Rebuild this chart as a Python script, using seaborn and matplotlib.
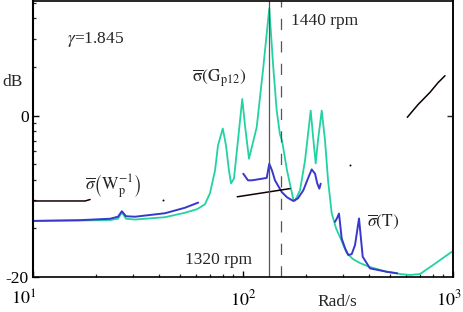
import numpy as np
import pandas as pd
import matplotlib
matplotlib.use("Agg")
import matplotlib.pyplot as plt
import matplotlib.transforms as mtransforms
from matplotlib.ticker import FixedLocator, NullLocator, LogLocator, NullFormatter
import seaborn as sns

# ---------------- data (frequency in rad/s, magnitude in dB) ----------------
gp12_freq = [10, 16.7, 23.3, 25.4, 26.5, 27.7, 30.6, 42.5, 52.9, 60.4, 65.9, 69.6, 73.6, 76.0,
             80.1, 83.0, 85.7, 87.7, 90.6, 94.6, 99.2, 102.2, 106.8, 116.2, 124.9, 133.4,
             139.4, 144.7, 150.0, 153.4, 162.0, 173.6, 176.9, 186.8, 197.4, 210.1, 215.4,
             221.9, 227.5, 237.1, 245.8, 254.1, 264.5, 277.3, 289.8, 311.8, 334.1, 360.6,
             402.5, 483.3, 559.6, 624, 696.6, 803.3, 985.8]
gp12_db = [-13.05, -13.0, -12.94, -12.78, -11.98, -12.78, -12.88, -12.59, -12.04, -11.6, -10.99,
           -9.63, -6.79, -3.70, -1.60, -3.70, -6.79, -8.40, -7.78, -3.09, 2.06, -1.23, -5.35,
           -1.44, 5.96, 13.3, 5.96, 0.62, -2.35, -3.09, -6.79, -10.37, -10.56, -9.26, -5.56,
           0.62, -2.47, -5.93, -3.09, 0.62, -3.09, -8.02, -12.1, -13.95, -15.06, -17.04,
           -17.78, -18.27, -18.77, -19.35, -19.63, -19.75, -19.63, -18.52, -16.88]

t1_freq = [10, 16.7, 23.3, 25.4, 26.5, 27.7, 30.6, 42.5, 52.9, 61.2]
t1_db = [-13.05, -12.96, -12.78, -12.53, -11.85, -12.47, -12.53, -12.1, -11.42, -10.78]

t2_freq = [100.3, 105.6, 110.4, 117.9, 129.7, 133.4, 137.4, 142.0, 152.9, 162.0, 173.6, 182.7,
           193.7, 204.0, 212.4, 220.3, 225.9, 230.9, 234.4]
t2_db = [-7.2, -8.02, -8.02, -7.9, -7.72, -5.96, -6.79, -8.02, -9.47, -10.12, -10.58, -10.25,
         -9.26, -7.78, -6.67, -7.2, -8.43, -9.05, -8.43]

t3_freq = [274.2, 280.3, 286.5, 295.1, 306.0, 317.3, 329.4, 341.5, 356.8, 371.6, 402.5, 483.3, 543.0]
t3_db = [-13.16, -12.72, -12.14, -15.22, -16.42, -17.28, -17.16, -16.05, -12.75, -17.49, -18.93,
         -19.35, -19.54]

w1_freq = [10, 17.7, 18.7]
w1_db = [-10.58, -10.58, -10.4]
w2_freq = [93.9, 167.4]
w2_db = [-10.06, -9.05]
w3_freq = [605.9, 681.3, 777.0, 848.0, 915.9]
w3_db = [-0.21, 1.36, 2.88, 4.07, 4.94]
w_dots_freq = [41.6, 323.1]
w_dots_db = [-10.4, -6.14]

speed_lines = [133.4, 150.9]          # 1320 rpm, 1440 rpm (rad/s)
x_tick_vals = [10, 100, 1000]
x_tick_labels = [r"$10^{1}$", r"$10^{2}$", r"$10^{3}$"]
y_tick_vals = [0, -20]
y_tick_labels = ["0", "-20"]
y_minor_mag = [0.2, 0.3, 0.4, 0.5, 0.6, 0.7, 0.8, 0.9, 2, 3, 4, 5]

# ---------------- style ----------------
sns.set_style("ticks")
plt.rcParams["font.family"] = ["Liberation Serif", "DejaVu Serif"]
plt.rcParams["mathtext.fontset"] = "stix"
FS = 12.5

GREEN = "#22d2a2"
BLUE = "#3838cc"
BLACK = "#100000"

fig = plt.figure(figsize=(4.64, 3.12), dpi=100)
ax = fig.add_axes([33 / 464, 35 / 312, 420 / 464, 276 / 312])


def seg(fr, db, color, lw=1.3):
    df = pd.DataFrame({"f": fr, "db": db})
    sns.lineplot(data=df, x="f", y="db", ax=ax, color=color, lw=lw, sort=False,
                 estimator=None, legend=False)


seg(gp12_freq, gp12_db, GREEN, 1.3)
seg(t1_freq, t1_db, BLUE, 1.4)
seg(t2_freq, t2_db, BLUE, 1.4)
seg(t3_freq, t3_db, BLUE, 1.4)
seg(w1_freq, w1_db, BLACK, 1.1)
seg(w2_freq, w2_db, BLACK, 1.1)
seg(w3_freq, w3_db, BLACK, 1.1)
sns.scatterplot(x=w_dots_freq, y=w_dots_db, ax=ax, color=BLACK, s=2, linewidth=0, legend=False)

ax.axvline(speed_lines[0], color="#555555", lw=0.9)
ax.axvline(speed_lines[1], color="#555555", lw=0.9, ls=(0, (9, 9)))

ax.set_xscale("log")
ax.set_xlim(10, 1000)
ax.set_ylim(-20, 14.2)

ax.set_xticks(x_tick_vals)
ax.set_xticklabels(x_tick_labels, fontsize=13)
ax.xaxis.set_minor_locator(LogLocator(base=10, subs=np.arange(2, 10)))
ax.xaxis.set_minor_formatter(NullFormatter())
ax.set_yticks(y_tick_vals)
ax.set_yticklabels(y_tick_labels, fontsize=FS)
ax.yaxis.set_minor_locator(FixedLocator([20 * np.log10(m) for m in y_minor_mag]))

ax.tick_params(axis="both", which="major", direction="in", length=4, width=1, pad=3,
               colors="black")
ax.tick_params(axis="both", which="minor", direction="in", length=2.2, width=0.9)
ax.tick_params(axis="x", which="major", pad=9)
ax.set_xlabel("")
ax.set_ylabel("")

# shift the first and last x labels as in the reference
labels = ax.get_xticklabels()
offs_first = mtransforms.ScaledTranslation(-9 / 100, 0, fig.dpi_scale_trans)
labels[0].set_transform(labels[0].get_transform() + offs_first)
offs_last = mtransforms.ScaledTranslation(-4 / 100, 0, fig.dpi_scale_trans)
labels[-1].set_transform(labels[-1].get_transform() + offs_last)

sec = ax.secondary_yaxis("right")
sec.set_yticks([0])
sec.set_yticklabels([])
sec.yaxis.set_minor_locator(NullLocator())
sec.tick_params(direction="in", length=4, width=1)
sec.spines["right"].set_linewidth(1.2)

for s in ax.spines.values():
    s.set_linewidth(1.2)
    s.set_color("black")
ax.spines["left"].set_linewidth(1.5)

# ---------------- texts ----------------
ax.text(14.5, 9.0, r"$\gamma$=1.845", fontsize=FS, ha="left", va="baseline")
ax.text(169.3, 11.2, "1440 rpm", fontsize=FS, ha="left", va="baseline")
ax.text(110.4, -18.4, "1320 rpm", fontsize=FS, ha="right", va="baseline")
ax.text(57.1, 4.7, r"$\overline{\mathrm{\sigma}}\left(\mathrm{G}_{\mathrm{p12}}\right)$",
        fontsize=FS, ha="left", va="center")
ax.text(17.7, -8.8, r"$\overline{\sigma}\left(\mathrm{W}_{\mathrm{p}}^{-1}\right)$",
        fontsize=FS, ha="left", va="center")
ax.text(389, -13.2, r"$\overline{\sigma}(\mathrm{T})$", fontsize=FS, ha="left", va="center")
fig.text(13 / 464, 1 - 82 / 312, "dB", fontsize=FS, ha="center", va="center")
fig.text(337 / 464, 1 - 302 / 312, "Rad/s", fontsize=FS, ha="center", va="center")

fig.savefig("out.png", dpi=100)
